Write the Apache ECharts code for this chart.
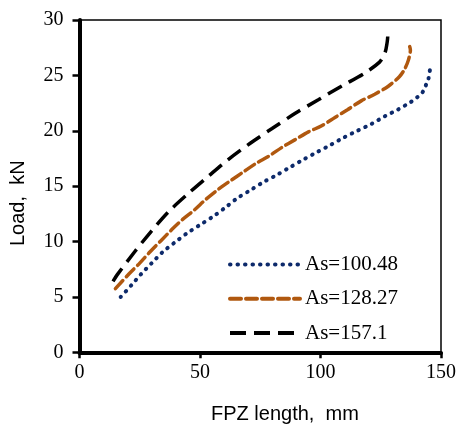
<!DOCTYPE html>
<html>
<head>
<meta charset="utf-8">
<script src="https://cdn.jsdelivr.net/npm/echarts@6/dist/echarts.min.js"></script>
<style>html,body{margin:0;padding:0;background:#fff;}#c{width:459px;height:426px;}</style>
</head>
<body>
<div id="c"></div>
<script>
var seriesNames = ['As=100.48', 'As=128.27', 'As=157.1'];
var xTicks = [0, 50, 100, 150];
var yTicks = [0, 5, 10, 15, 20, 25, 30];
var as100 = [[17.1,5.0],[21.5,6.05],[25.6,7.07],[30,8.06],[34.5,9.05],[39.6,9.93],[44.6,10.74],[49.9,11.49],[55.3,12.24],[60.4,13.05],[65.4,13.9],[71,14.65],[76.1,15.34],[81.8,16.0],[87.3,16.7],[92.9,17.4],[98.4,18.05],[104,18.7],[109.5,19.37],[115.3,20.0],[121,20.6],[126.6,21.3],[132,21.9],[137.5,22.6],[140,23.0],[142.4,23.5],[143.7,24.1],[144.8,24.7],[145.4,25.5]];
var as128 = [[14.9,5.75],[20.5,7.07],[24.9,8.03],[29.3,9.08],[33.9,10.1],[38.4,11.1],[42.8,12.0],[47.6,12.84],[52.4,13.8],[57.5,14.7],[62.7,15.5],[67.8,16.25],[73.3,17.06],[78.5,17.7],[84,18.5],[89.5,19.2],[95,19.9],[100.5,20.45],[106,21.2],[111.2,21.9],[116.9,22.7],[122.5,23.3],[128,24.0],[132.8,24.9],[135,25.6],[136.5,26.4],[137.3,27.3],[137.0,27.6]];
var as157 = [[13.9,6.4],[16,7.1],[22.9,9.08],[29.7,10.9],[37,12.7],[45.2,14.35],[53.5,15.9],[61.7,17.4],[71,18.9],[79.9,20.2],[89.7,21.6],[99.1,22.8],[108.5,24.0],[118.3,25.2],[124.5,26.2],[126.3,26.8],[127.2,27.4],[127.9,28.6],[127.9,29.1]];

var chart = echarts.init(document.getElementById('c'), null, {renderer: 'canvas'});
var serif = 'Liberation Serif, Times New Roman, serif';
var sans = 'Liberation Sans, Arial, sans-serif';
chart.setOption({
  animation: false,
  backgroundColor: '#fff',
  grid: {left: 79.5, right: 15.5, top: 20, bottom: 73.7, show: true, borderColor: '#000', borderWidth: 1.5},
  xAxis: {
    type: 'value', min: xTicks[0], max: xTicks[xTicks.length-1], interval: 50,
    axisLine: {lineStyle: {color: '#000', width: 4}},
    axisTick: {show: true, inside: false, length: 6, lineStyle: {color: '#000', width: 2.5}},
    axisLabel: {color: '#000', fontFamily: serif, fontSize: 20, margin: 10},
    splitLine: {show: false}
  },
  yAxis: {
    type: 'value', min: yTicks[0], max: yTicks[yTicks.length-1], interval: 5,
    axisLine: {show: true, lineStyle: {color: '#000', width: 4}},
    axisTick: {show: true, inside: false, length: 7, lineStyle: {color: '#000', width: 2.5}},
    axisLabel: {color: '#000', fontFamily: serif, fontSize: 20, margin: 16},
    splitLine: {show: false}
  },
  legend: {
    orient: 'vertical', left: 223, top: 249,
    itemWidth: 70, itemHeight: 14, itemGap: 13.3,
    itemStyle: {opacity: 0},
    lineStyle: {width: 4},
    textStyle: {fontFamily: serif, fontSize: 21, color: '#000'},
    data: seriesNames
  },
  graphic: [
    {type: 'text', left: 211, top: 404, style: {text: 'FPZ length,  mm', font: '20px ' + sans, fill: '#000'}},
    {type: 'text', x: 8, y: 246, rotation: Math.PI/2, style: {text: 'Load,  kN', font: '20px ' + sans, fill: '#000'}}
  ],
  series: [
    {name: seriesNames[0], type: 'line', data: as100, smooth: 0.3, symbol: 'none',
     lineStyle: {color: '#0d2a6b', width: 4, type: [0.5, 7], cap: 'round'}, itemStyle: {color: '#0d2a6b'}},
    {name: seriesNames[1], type: 'line', data: as128, smooth: 0.3, symbol: 'none',
     lineStyle: {color: '#b0580f', width: 3.5, type: [11, 5], cap: 'round'}, itemStyle: {color: '#b0580f'}},
    {name: seriesNames[2], type: 'line', data: as157, smooth: 0.3, symbol: 'none',
     lineStyle: {color: '#000', width: 3.5, type: [16, 8]}, itemStyle: {color: '#000'}}
  ]
});
</script>
</body>
</html>
